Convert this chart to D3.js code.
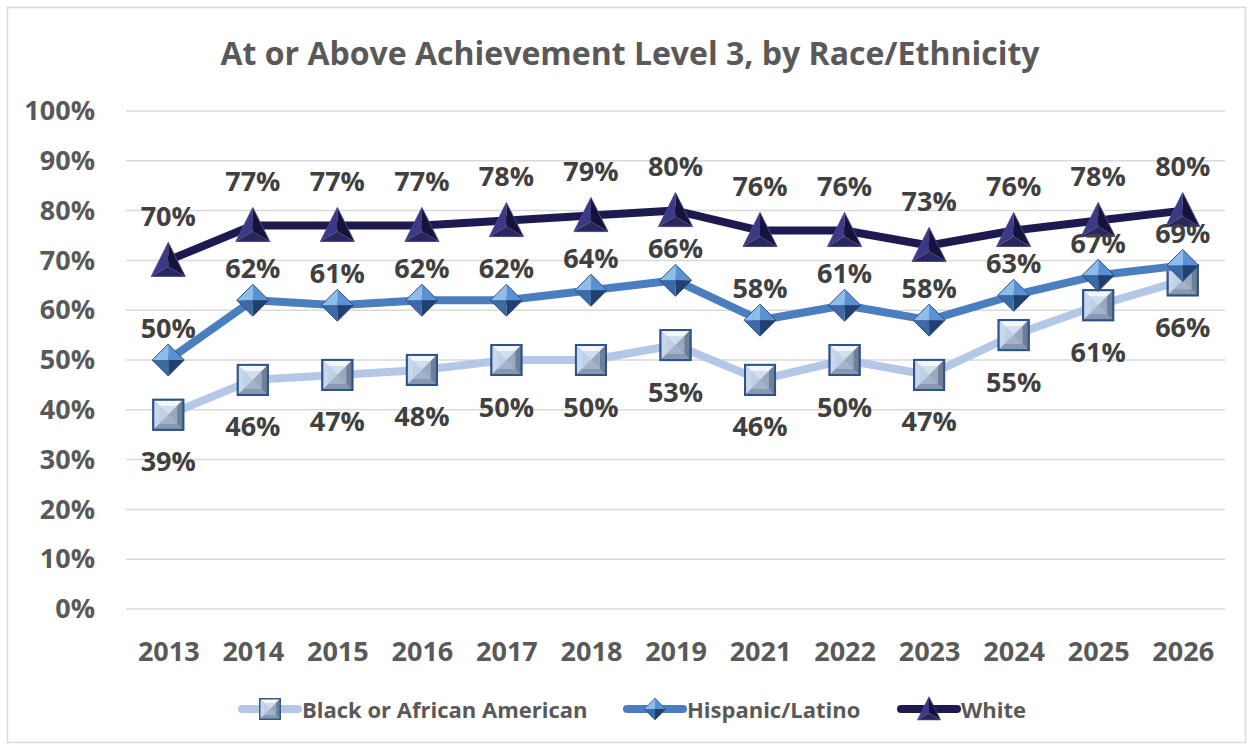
<!DOCTYPE html>
<html lang="en">
<head>
  <meta charset="UTF-8">
  <title>At or Above Achievement Level 3, by Race/Ethnicity</title>
  <style>
    body { margin: 0; padding: 0; background: #fff; }
    svg { display: block; font-family: "Open Sans", "Liberation Sans", sans-serif; font-weight: 700; }
    .grid line { stroke: #d9d9d9; stroke-width: 1.5px; }
    .lbl { fill: #595959; }
    .dlbl { fill: #404040; }
  </style>
</head>
<body>
  <div id="chart"></div>

  <script src="https://d3js.org/d3.v7.min.js"></script>
  <script>
    // chart values
    var years = ["2013", "2014", "2015", "2016", "2017", "2018", "2019", "2021", "2022", "2023", "2024", "2025", "2026"];
    var black = [39, 46, 47, 48, 50, 50, 53, 46, 50, 47, 55, 61, 66];
    var hispanic = [50, 62, 61, 62, 62, 64, 66, 58, 61, 58, 63, 67, 69];
    var white = [70, 77, 77, 77, 78, 79, 80, 76, 76, 73, 76, 78, 80];
    var yTicks = [0, 10, 20, 30, 40, 50, 60, 70, 80, 90, 100];

    var series = [
      { name: "Black or African American", values: black, color: "#b4c7e7", marker: "square", dy: 46 },
      { name: "Hispanic/Latino", values: hispanic, color: "#4a7ebf", marker: "diamond", dy: -33 },
      { name: "White", values: white, color: "#1c1a4f", marker: "triangle", dy: -45 }
    ];

    var width = 1253, height = 747;
    var svg = d3.select("#chart").append("svg")
      .attr("width", width)
      .attr("height", height);

    // chart border
    svg.append("rect")
      .attr("x", 7.5).attr("y", 7.5)
      .attr("width", 1238).attr("height", 735)
      .attr("fill", "#fff")
      .attr("stroke", "#d9d9d9")
      .attr("stroke-width", 1.5);

    var x = d3.scalePoint().domain(years).range([126, 1225]).padding(0.5);
    var y = d3.scaleLinear().domain([0, 100]).range([609, 111]);

    svg.append("text")
      .attr("class", "lbl")
      .attr("x", 630).attr("y", 52)
      .attr("text-anchor", "middle")
      .attr("dominant-baseline", "central")
      .style("font-size", "32px")
      .text("At or Above Achievement Level 3, by Race/Ethnicity");

    // gridlines
    svg.append("g").attr("class", "grid")
      .selectAll("line")
      .data(yTicks)
      .enter().append("line")
      .attr("x1", 126).attr("x2", 1225)
      .attr("y1", function(d) { return y(d); })
      .attr("y2", function(d) { return y(d); });

    // y axis
    var yAxis = svg.append("g")
      .attr("transform", "translate(95,0)")
      .call(d3.axisLeft(y).tickValues(yTicks).tickSize(0).tickPadding(0)
        .tickFormat(function(d) { return d + "%"; }));
    yAxis.attr("font-family", null).attr("font-size", null);
    yAxis.select(".domain").remove();
    yAxis.selectAll("text").attr("class", "lbl").attr("fill", null).style("font-size", "27px");

    // x axis
    var xAxis = svg.append("g")
      .attr("transform", "translate(0,609)")
      .call(d3.axisBottom(x).tickSize(0).tickPadding(0));
    xAxis.attr("font-family", null).attr("font-size", null);
    xAxis.select(".domain").remove();
    xAxis.selectAll("text").attr("class", "lbl").attr("fill", null)
      .attr("dy", null).attr("y", 41)
      .attr("dominant-baseline", "central")
      .style("font-size", "27px");

    // beveled markers
    function drawMarker(g, type) {
      if (type === "square") {
        var s = 15;
        g.append("rect").attr("x", -s).attr("y", -s).attr("width", 2 * s).attr("height", 2 * s)
          .attr("fill", "#8fa4bd").attr("stroke", "#2f5388").attr("stroke-width", 2);
        var faces = [
          [[-s, -s], [s, -s], [0, 0], "#f2f7fd"],
          [[-s, -s], [-s, s], [0, 0], "#c8d8ec"],
          [[s, -s], [s, s], [0, 0], "#6e8097"],
          [[-s, s], [s, s], [0, 0], "#8799b0"]
        ];
        faces.forEach(function(f) {
          g.append("path").attr("d", "M" + f[0] + "L" + f[1] + "L" + f[2] + "Z").attr("fill", f[3]);
        });
        g.append("rect").attr("x", -9).attr("y", -9).attr("width", 18).attr("height", 18)
          .attr("fill", "#b9cbe0").attr("opacity", 0.55);
        g.append("rect").attr("x", -s).attr("y", -s).attr("width", 2 * s).attr("height", 2 * s)
          .attr("fill", "none").attr("stroke", "#2f5388").attr("stroke-width", 2);
      } else if (type === "diamond") {
        var r = 16;
        var dfaces = [
          [[0, -r], [-r, 0], "#8fbde9"],
          [[0, -r], [r, 0], "#5a91d2"],
          [[-r, 0], [0, r], "#3b6aa6"],
          [[r, 0], [0, r], "#22406f"]
        ];
        dfaces.forEach(function(f) {
          g.append("path").attr("d", "M" + f[0] + "L" + f[1] + "L0,0Z").attr("fill", f[2]);
        });
        g.append("path").attr("d", "M0," + (-r) + "L" + r + ",0L0," + r + "L" + (-r) + ",0Z")
          .attr("fill", "none").attr("stroke", "#2b4f86").attr("stroke-width", 1);
      } else {
        var top = [0, -18], bl = [-17, 16], br = [17, 16], c = [0, 6];
        g.append("path").attr("d", "M" + top + "L" + bl + "L" + c + "Z").attr("fill", "#3c3a85");
        g.append("path").attr("d", "M" + top + "L" + br + "L" + c + "Z").attr("fill", "#15133c");
        g.append("path").attr("d", "M" + bl + "L" + br + "L" + c + "Z").attr("fill", "#29275e");
        g.append("path").attr("d", "M" + top + "L" + bl + "L" + br + "Z")
          .attr("fill", "none").attr("stroke", "#4a4a8a").attr("stroke-width", 1);
      }
    }

    var line = d3.line()
      .x(function(d, i) { return x(years[i]); })
      .y(function(d) { return y(d); });

    series.forEach(function(s) {
      svg.append("path")
        .attr("d", line(s.values))
        .attr("fill", "none")
        .attr("stroke", s.color)
        .attr("stroke-width", 8)
        .attr("stroke-linejoin", "round");
      s.values.forEach(function(v, i) {
        var g = svg.append("g").attr("transform", "translate(" + x(years[i]) + "," + y(v) + ")");
        drawMarker(g, s.marker);
      });
    });

    // data labels
    series.forEach(function(s) {
      svg.append("g").selectAll("text")
        .data(s.values)
        .enter().append("text")
        .attr("class", "dlbl")
        .attr("x", function(d, i) { return x(years[i]); })
        .attr("y", function(d) { return y(d) + s.dy; })
        .attr("text-anchor", "middle")
        .attr("dominant-baseline", "central")
        .style("font-size", "27px")
        .text(function(d) { return d + "%"; });
    });

    // legend
    var legendX = [270, 655, 929];
    series.forEach(function(s, i) {
      var g = svg.append("g").attr("transform", "translate(" + legendX[i] + ",709)");
      g.append("line").attr("x1", -28).attr("x2", 28)
        .attr("stroke", s.color).attr("stroke-width", 8).attr("stroke-linecap", "round");
      drawMarker(g.append("g").attr("transform", "scale(0.68)"), s.marker);
      g.append("text")
        .attr("class", "lbl")
        .attr("x", 32)
        .attr("dominant-baseline", "central")
        .style("font-size", "22px")
        .text(s.name);
    });
  </script>
</body>
</html>
